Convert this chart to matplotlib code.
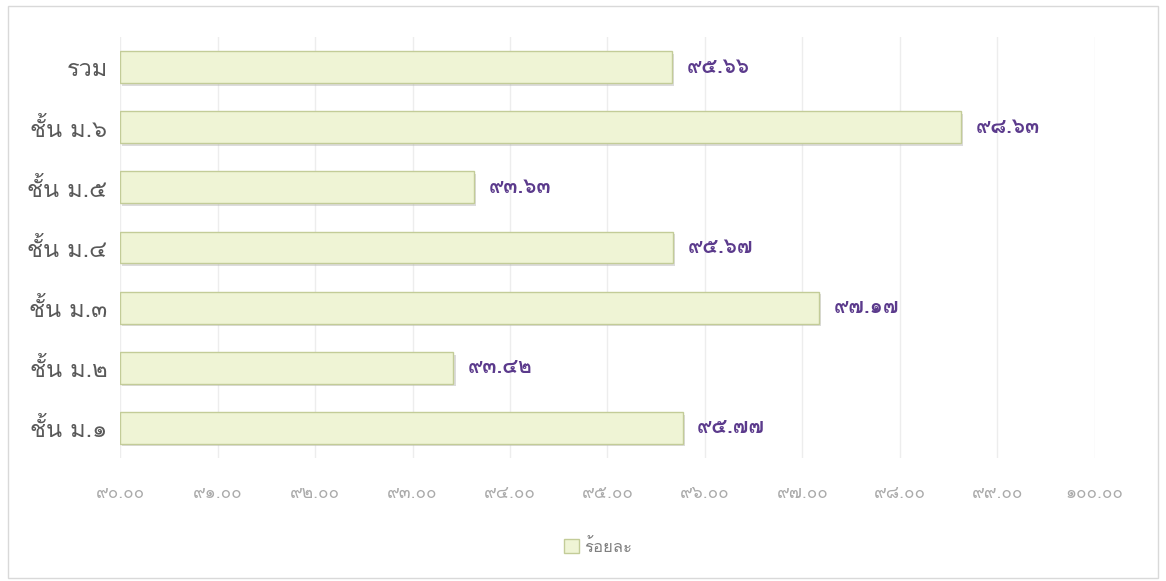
import matplotlib
matplotlib.use("Agg")
import matplotlib.pyplot as plt
from matplotlib import font_manager
from matplotlib.ft2font import FT2Font
from matplotlib.patches import Rectangle
import matplotlib.patheffects as pe

# หาฟอนต์ที่มีอักษรไทย
def find_thai_font():
    names = []
    for f in font_manager.fontManager.ttflist:
        try:
            cmap = FT2Font(f.fname).get_charmap()
        except Exception:
            continue
        if 0x0E0A in cmap and 0x0E59 in cmap and f.name not in names:
            names.append(f.name)
    return names

thai_fonts = find_thai_font()
plt.rcParams['font.family'] = thai_fonts + ['DejaVu Sans']

categories = ["ชั้น ม.๑", "ชั้น ม.๒", "ชั้น ม.๓", "ชั้น ม.๔", "ชั้น ม.๕", "ชั้น ม.๖", "รวม"]
values = [95.77, 93.42, 97.17, 95.67, 93.63, 98.63, 95.66]
ticks = [90, 91, 92, 93, 94, 95, 96, 97, 98, 99, 100]
legend_label = "ร้อยละ"

thai_digits = str.maketrans("0123456789", "๐๑๒๓๔๕๖๗๘๙")

def th(s):
    return s.translate(thai_digits)

fig = plt.figure(figsize=(11.66, 5.81), dpi=100)
fig.patches.append(Rectangle((0.007, 0.005), 0.986, 0.985, transform=fig.transFigure,
                             fill=False, edgecolor="#D9D9D9", linewidth=1))

ax = fig.add_axes([0.103, 0.212, 0.836, 0.724])
bars = ax.barh(range(len(categories)), [v - 90 for v in values], left=90, height=0.53,
               color="#EFF4D5", edgecolor="#C3CC98", linewidth=1, zorder=3)
for b in bars:
    b.set_path_effects([pe.SimplePatchShadow(offset=(1.5, -2), shadow_rgbFace="#BBBBBB", alpha=0.5),
                        pe.Normal()])

for i, v in enumerate(values):
    ax.text(v + 0.15, i, th(f"{v:.2f}"), va="center", ha="left",
            fontsize=15, fontweight="bold", color="#5B3A8C")

ax.set_xlim(90, 100)
ax.set_ylim(-0.5, len(categories) - 0.5)
ax.set_xticks(ticks)
ax.set_xticklabels([th(f"{t:.2f}") for t in ticks], fontsize=12.5, color="#ABABAB")
ax.set_yticks(range(len(categories)))
ax.set_yticklabels(categories, fontsize=17, color="#595959")
ax.tick_params(axis="both", length=0)
ax.tick_params(axis="x", pad=20)
ax.tick_params(axis="y", pad=9)
ax.grid(axis="x", color="#EDEDED", linewidth=1, zorder=0)
for s in ax.spines.values():
    s.set_visible(False)

fig.legend([Rectangle((0, 0), 1, 1, facecolor="#EFF4D5", edgecolor="#C3CC98")], [legend_label],
           loc="center", bbox_to_anchor=(0.513, 0.058), frameon=False, fontsize=12,
           handlelength=0.9, handleheight=0.9, handletextpad=0.3, labelcolor="#808080")

fig.savefig("out.png", dpi=100)
